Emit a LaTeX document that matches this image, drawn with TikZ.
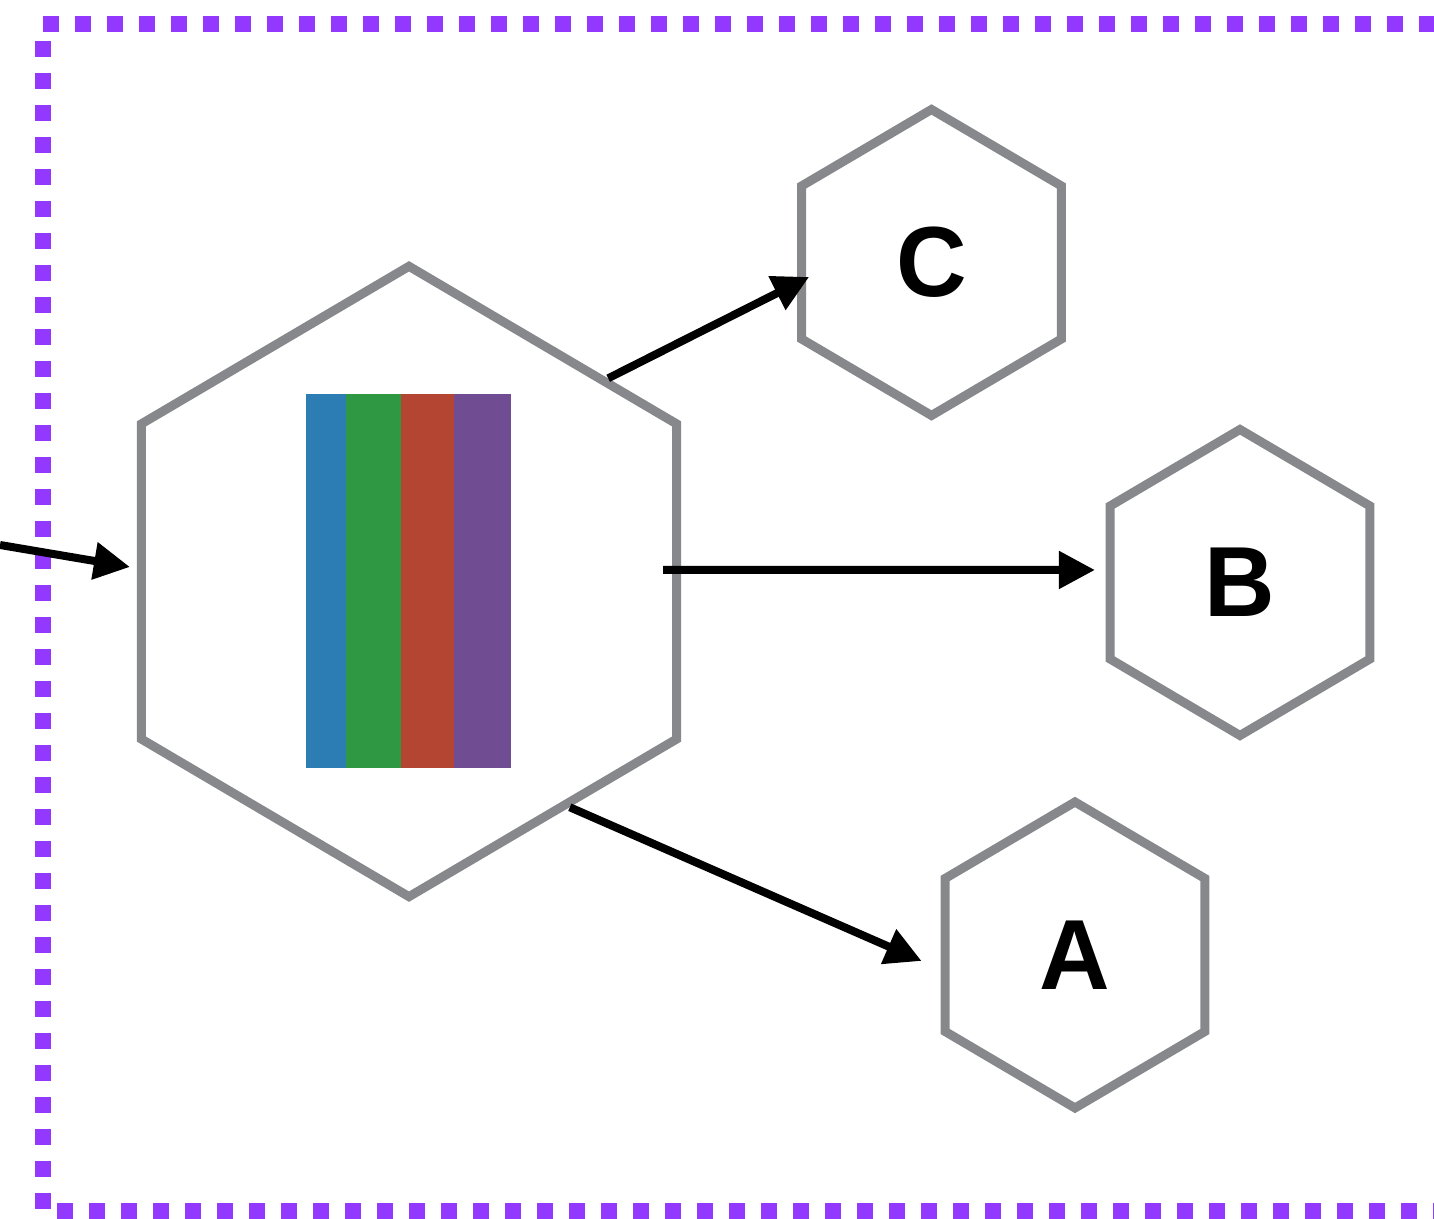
\documentclass[tikz,border=0pt]{standalone}
\usepackage{fontspec}
\setmainfont{Liberation Sans}
\usetikzlibrary{
	positioning,
	arrows.meta,
	shapes.geometric
}
\definecolor{framepurple}{HTML}{9338FF}
\definecolor{hexgray}{HTML}{87888C}
\definecolor{barblue}{HTML}{2B7DB4}
\definecolor{bargreen}{HTML}{2E9843}
\definecolor{barred}{HTML}{B44532}
\definecolor{barpurple}{HTML}{704C93}

\begin{document}
\begin{tikzpicture}[
			hexa/.style={
				draw=hexgray,
				line width=0.09cm,
				regular polygon,
				regular polygon sides=6,
				shape border rotate=30,
				inner sep=0pt,
				minimum size=3.0cm,
				yscale=1.02,
				font=\fontsize{27.8}{30}\selectfont\bfseries
			},
			arrow/.style={-{Triangle[length=0.36cm,width=0.36cm]},line width=0.08cm},
			dotframe/.style={draw=framepurple,line width=0.16cm,dash pattern=on 0.16cm off 0.16cm}
			]
			
			\useasboundingbox (0,0) rectangle (14.34,12.19);
			
			\draw[dotframe] (0.427,11.95)--(14.34,11.95);
			\draw[dotframe] (0.427,11.78)--(0.427,0);
			\draw[dotframe] (0.567,0.08)--(14.34,0.08);
			
			\node[hexa,minimum size=6.18cm] (split) at (4.09,6.375) {};
			
			\foreach \x/\w/\c in {-1.03/0.40/barblue,-0.63/0.55/bargreen,-0.08/0.53/barred,0.45/0.57/barpurple}
			\fill[\c] ([shift={(\x,-1.87)}]split.center) rectangle ++(\w,3.74);
			
			\node[hexa] (C) at (9.315,9.565) {C};
			
			\node[hexa] (B) at (12.40,6.365) {B};
			
			\node[hexa] (A) at (10.75,2.64) {A};
			
			\coordinate (in) at (0,6.74);
			
			\draw[arrow] (in)--([shift={(-0.069,0.145)}]split.west);
			\draw[arrow] (split.45)--([shift={(0.12,-0.145)}]C.west);
			\draw[arrow] ([shift={(-0.18,0.115)}]split.east)--([shift={(-0.106,0.125)}]B.west);
			\draw[arrow] (split.-54)--([shift={(-0.19,-0.06)}]A.west);
			
		\end{tikzpicture}
\end{document}
